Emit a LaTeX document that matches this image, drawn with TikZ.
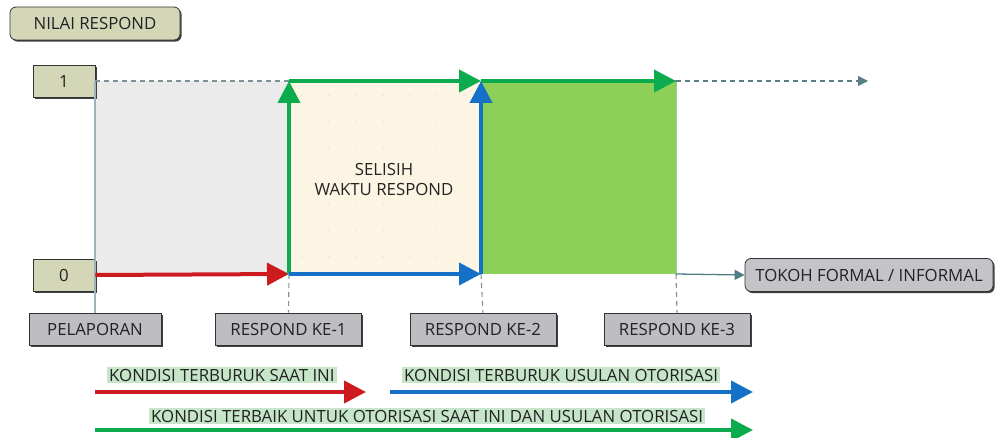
\documentclass[tikz,border=0pt]{standalone}
\usepackage{fontspec}
\setmainfont{Open Sans}
\usetikzlibrary{arrows.meta,shadows}
\definecolor{txt}{HTML}{222222}
\definecolor{khaki}{HTML}{D4D6B8}
\definecolor{lblgray}{HTML}{BDBDC2}
\definecolor{tokgray}{HTML}{C4C4C8}
\definecolor{areagray}{HTML}{EBEBEB}
\definecolor{cream}{HTML}{FDF5E3}
\definecolor{creamdot}{HTML}{E9E0CB}
\definecolor{areagreen}{HTML}{8CD05A}
\definecolor{cred}{HTML}{CC1A1F}
\definecolor{cgreen}{HTML}{0BAB4E}
\definecolor{cblue}{HTML}{1570C8}
\definecolor{thinline}{HTML}{9FB3BA}
\definecolor{dashline}{HTML}{7F9298}
\definecolor{teal}{HTML}{4F7F85}
\definecolor{hl}{HTML}{C6E5C9}
\tikzset{
  every node/.style={text=txt,font=\fontsize{16.8}{20}\selectfont},
  boxshadow/.style={drop shadow={shadow xshift=1.6pt,shadow yshift=-1.6pt,fill=black!75,opacity=1}},
  valbox/.style={draw=black!80,line width=0.8pt,fill=khaki,minimum width=62pt,minimum height=32pt,inner sep=0pt,boxshadow},
  lblbox/.style={draw=black!80,line width=0.8pt,fill=lblgray,minimum width=146pt,minimum height=32pt,inner sep=0pt,boxshadow},
  roundbox/.style={draw=black!80,line width=0.8pt,rounded corners=6pt,minimum height=33pt,inner sep=0pt,boxshadow},
  legtext/.style={fill=hl,inner xsep=2pt,inner ysep=1.5pt,anchor=west},
  bigarrow/.style={line width=4pt,-{Triangle[length=22pt,width=22pt]}},
  thinarrow/.style={line width=1.3pt,teal,-{Triangle[length=10pt,width=10pt]}},
  guide/.style={line width=1.1pt,dashline,dash pattern=on 5pt off 4pt}
}
\begin{document}
\begin{tikzpicture}[x=1pt,y=-1pt]
\useasboundingbox (0,0) rectangle (996,438);
% grid coordinates
\coordinate (a0) at (95,274);
\coordinate (a1) at (289,274);
\coordinate (a2) at (481,274);
\coordinate (a3) at (676,274);
\coordinate (b0) at (95,81);
\coordinate (b1) at (289,81);
\coordinate (b2) at (481,81);
\coordinate (b3) at (676,81);
\coordinate (bend) at (868,81);
% areas
\fill[areagray] (b0) rectangle (a1);
\fill[cream] (b1) rectangle (a2);
\foreach \x in {302,329,...,470} \foreach \y in {95,122,...,265} \fill[creamdot] (\x,\y) circle (0.9pt);
\fill[areagreen] (b2) rectangle (a3);
\draw[line width=0.8pt,green!50!black!40] (b3) -- (a3);
% nodes
\node[roundbox,fill=khaki,minimum width=170pt] (nilai) at (95,23.5) {NILAI RESPOND};
\node[valbox] (one) at (64,81.5) {1};
\node[valbox] (zero) at (64,275) {0};
\node[lblbox,minimum width=132pt] (pel) at (95,329) {PELAPORAN};
\node[lblbox] (r1) at (288.5,329) {RESPOND KE-1};
\node[lblbox] (r2) at (483,329) {RESPOND KE-2};
\node[lblbox] (r3) at (677,329) {RESPOND KE-3};
\node[roundbox,fill=tokgray,minimum width=248pt] (tokoh) at (869,275) {TOKOH FORMAL / INFORMAL};
\node[align=center] (selisih) at (384,180) {SELISIH\\WAKTU RESPOND};
% thin lines
\draw[thinline,line width=1.2pt] (b0) -- (pel.north);
\draw[guide] (b0) -- (b3);
\draw[guide,teal!80!gray,-{Triangle[length=10pt,width=10pt]}] (b3) -- (bend);
\draw[guide] (a1) -- (r1.north);
\draw[guide] (a2) -- (r2.north);
\draw[guide] (a3) -- (r3.north);
\draw[thinarrow] (a3) -- (tokoh.west);
% main arrows
\draw[bigarrow,cred] (zero.east) -- (a1);
\draw[bigarrow,cgreen] (a1) -- (b1);
\draw[bigarrow,cgreen] (b1) -- (b2);
\draw[bigarrow,cgreen] (b2) -- (b3);
\draw[bigarrow,cblue] (a1) -- (a2);
\draw[bigarrow,cblue] (a2) -- (b2);
% legend
\coordinate (rs) at (95,392);
\coordinate (re) at (366,392);
\coordinate (bs) at (390,392);
\coordinate (be) at (753,392);
\coordinate (gs) at (95,430);
\coordinate (ge) at (753,430);
\node[legtext] (tred) at (107,375) {KONDISI TERBURUK SAAT INI};
\node[legtext] (tblue) at (402,375) {KONDISI TERBURUK USULAN OTORISASI};
\node[legtext] (tgreen) at (149,416) {KONDISI TERBAIK UNTUK OTORISASI SAAT INI DAN USULAN OTORISASI};
\draw[bigarrow,cred] (rs) -- (re);
\draw[bigarrow,cblue] (bs) -- (be);
\draw[bigarrow,cgreen] (gs) -- (ge);
\end{tikzpicture}
\end{document}
